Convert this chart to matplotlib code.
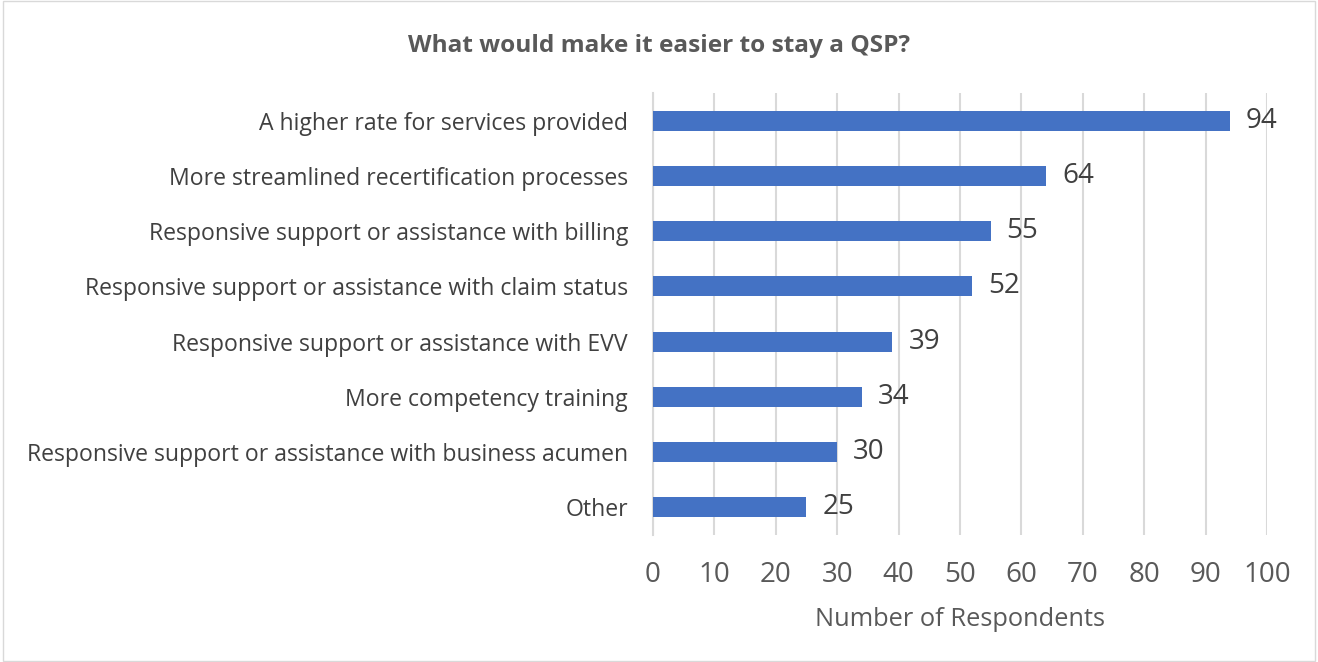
import matplotlib.pyplot as plt
from matplotlib.patches import Rectangle

plt.rcParams['font.family'] = ['Open Sans', 'DejaVu Sans']

categories = ["A higher rate for services provided",
              "More streamlined recertification processes",
              "Responsive support or assistance with billing",
              "Responsive support or assistance with claim status",
              "Responsive support or assistance with EVV",
              "More competency training",
              "Responsive support or assistance with business acumen",
              "Other"]
respondents = [94, 64, 55, 52, 39, 34, 30, 25]
xticks = list(range(0, 101, 10))

fig = plt.figure(figsize=(13.18, 6.62), dpi=100)
ax = fig.add_axes([0.4954, 0.1918, 0.4659, 0.6677])

ypos = list(range(len(categories)))[::-1]
bars = ax.barh(ypos, respondents, height=0.36, color='#4472C4', zorder=3)
for b, v in zip(bars, respondents):
    ax.text(v + 2.6, b.get_y() + b.get_height() / 2, str(v),
            va='center', ha='left', fontsize=20, color='#404040')

ax.set_xlim(0, 100)
ax.set_ylim(-0.5, len(categories) - 0.5)
ax.set_xticks(xticks)
ax.set_yticks(ypos)
ax.set_yticklabels(categories)
ax.tick_params(axis='y', length=0, labelsize=16.6, colors='#404040', pad=18)
ax.tick_params(axis='x', length=0, labelsize=20, colors='#595959', pad=19)
ax.grid(axis='x', color='#D9D9D9', linewidth=1.5, zorder=0)
for s in ['top', 'right', 'bottom']:
    ax.spines[s].set_visible(False)
ax.spines['left'].set_color('#D9D9D9')
ax.spines['left'].set_linewidth(1.5)
ax.set_xlabel('Number of Respondents', fontsize=18.3, color='#595959', labelpad=13)

fig.text(0.5, 0.931, 'What would make it easier to stay a QSP?', ha='center',
         va='center', fontsize=17.6, fontweight='bold', color='#595959')
fig.patches.append(Rectangle((0.002, 0.002), 0.996, 0.996, transform=fig.transFigure,
                             fill=False, edgecolor='#D9D9D9', linewidth=1))

fig.savefig('out.png', dpi=100)
